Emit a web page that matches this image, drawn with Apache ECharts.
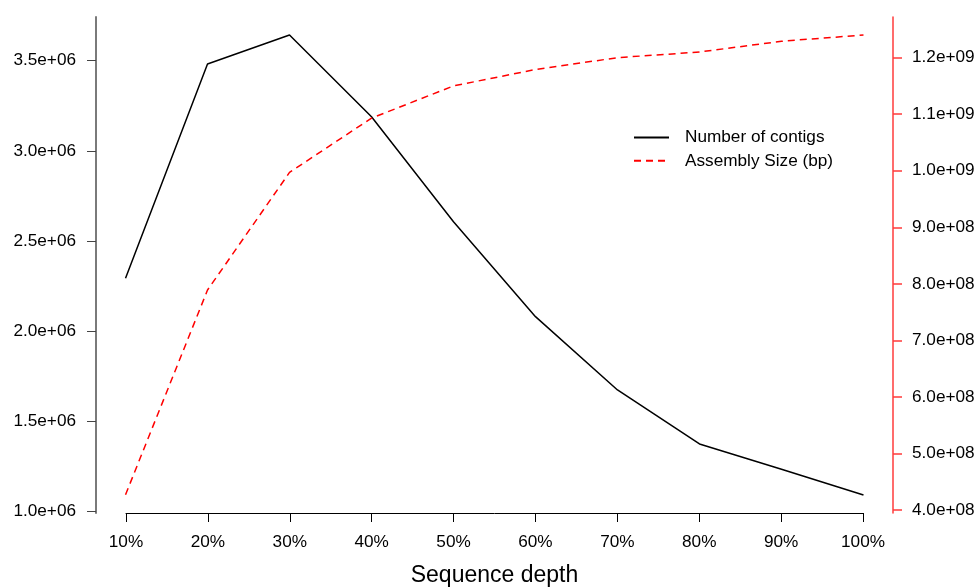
<!DOCTYPE html>
<html>
<head>
<meta charset="utf-8">
<script src="https://cdn.jsdelivr.net/npm/echarts@6/dist/echarts.min.js"></script>
<style>
  html, body { margin: 0; padding: 0; background: #fff; }
  #chart { width: 978px; height: 588px; }
</style>
</head>
<body>
<div id="chart"></div>
<script>
// 测序深度 (%)
const depth = [10, 20, 30, 40, 50, 60, 70, 80, 90, 100];
// Number of contigs
const contigs = [2.292e6, 3.482e6, 3.643e6, 3.189e6, 2.606e6, 2.079e6, 1.672e6, 1.372e6, 1.232e6, 1.089e6];
// Assembly Size (bp)
const assembly = [4.27e8, 7.89e8, 9.97e8, 1.093e9, 1.150e9, 1.179e9, 1.200e9, 1.210e9, 1.229e9, 1.240e9];

// 刻度
const xTicks = [10, 20, 30, 40, 50, 60, 70, 80, 90, 100];
const leftTicks = [1.0e6, 1.5e6, 2.0e6, 2.5e6, 3.0e6, 3.5e6];
const rightTicks = [4e8, 5e8, 6e8, 7e8, 8e8, 9e8, 1.0e9, 1.1e9, 1.2e9];

const legendNames = ['Number of contigs', 'Assembly Size (bp)'];
const xName = 'Sequence depth';

const font = 'Liberation Sans, Arial, sans-serif';
const fs = 17.2;

// R 风格的科学计数法 1.0e+06
function sci(v) {
    const parts = v.toExponential(1).split('e');
    const sign = parts[1][0];
    const exp = parts[1].slice(1).padStart(2, '0');
    return parts[0] + 'e' + sign + exp;
}

const zip = (xs, ys) => xs.map((x, i) => [x, ys[i]]);

const chart = echarts.init(document.getElementById('chart'));
const option = {
    backgroundColor: '#fff',
    animation: false,
    grid: [
        // 绘图区 (含 4% 的扩展)
        { left: 96, right: 85, top: 17, bottom: 75, outerBoundsMode: 'none' },
        // 只用于画 x 轴 (10% ~ 100%)
        { left: 126, right: 115, top: 17, bottom: 75, outerBoundsMode: 'none' }
    ],
    legend: {
        orient: 'vertical',
        left: 628,
        top: 123.5,
        itemWidth: 35,
        itemHeight: 14,
        itemGap: 5.3,
        data: legendNames,
        itemStyle: { opacity: 0 },
        textStyle: {
            fontFamily: font,
            fontSize: fs,
            color: '#000',
            lineHeight: 18,
            padding: [0, 0, 0, 11]
        }
    },
    xAxis: [
        {
            gridIndex: 0,
            type: 'value',
            min: 6.4,
            max: 103.6,
            show: false
        },
        {
            gridIndex: 1,
            type: 'value',
            min: 10,
            max: 100,
            name: xName,
            nameLocation: 'middle',
            nameGap: 51,
            nameTextStyle: { fontFamily: font, fontSize: 23, color: '#000' },
            axisLine: { show: true, lineStyle: { color: '#000', width: 1 } },
            axisTick: { show: true, length: 9, customValues: xTicks, lineStyle: { color: '#000', width: 1 } },
            axisLabel: {
                customValues: xTicks,
                margin: 21,
                fontFamily: font,
                fontSize: fs,
                color: '#000',
                formatter: v => v + '%'
            },
            splitLine: { show: false }
        }
    ],
    yAxis: [
        {
            gridIndex: 0,
            type: 'value',
            position: 'left',
            min: 0.9889e6,
            max: 3.7426e6,
            axisLine: { show: true, lineStyle: { color: '#7a7a7a', width: 2 } },
            axisTick: { show: true, length: 9, customValues: leftTicks, lineStyle: { color: '#444', width: 1 } },
            axisLabel: {
                customValues: leftTicks,
                margin: 20,
                fontFamily: font,
                fontSize: fs,
                color: '#000',
                formatter: v => sci(v)
            },
            splitLine: { show: false }
        },
        {
            gridIndex: 0,
            type: 'value',
            position: 'right',
            min: 3.947e8,
            max: 12.719e8,
            axisLine: { show: true, lineStyle: { color: '#ff3b3b', width: 1.5 } },
            axisTick: { show: true, length: 9, customValues: rightTicks, lineStyle: { color: '#ff3b3b', width: 1.5 } },
            axisLabel: {
                customValues: rightTicks,
                margin: 19,
                fontFamily: font,
                fontSize: fs,
                color: '#000',
                formatter: v => sci(v)
            },
            splitLine: { show: false }
        },
        {
            gridIndex: 1,
            type: 'value',
            show: false
        }
    ],
    series: [
        {
            name: legendNames[0],
            type: 'line',
            xAxisIndex: 0,
            yAxisIndex: 0,
            symbol: 'none',
            lineStyle: { color: '#000', width: 1.5 },
            itemStyle: { color: '#000' },
            data: zip(depth, contigs)
        },
        {
            name: legendNames[1],
            type: 'line',
            xAxisIndex: 0,
            yAxisIndex: 1,
            symbol: 'none',
            lineStyle: { color: '#ff0000', width: 1.5, type: [7, 5] },
            itemStyle: { color: '#ff0000' },
            data: zip(depth, assembly)
        }
    ]
};
chart.setOption(option);
</script>
</body>
</html>
